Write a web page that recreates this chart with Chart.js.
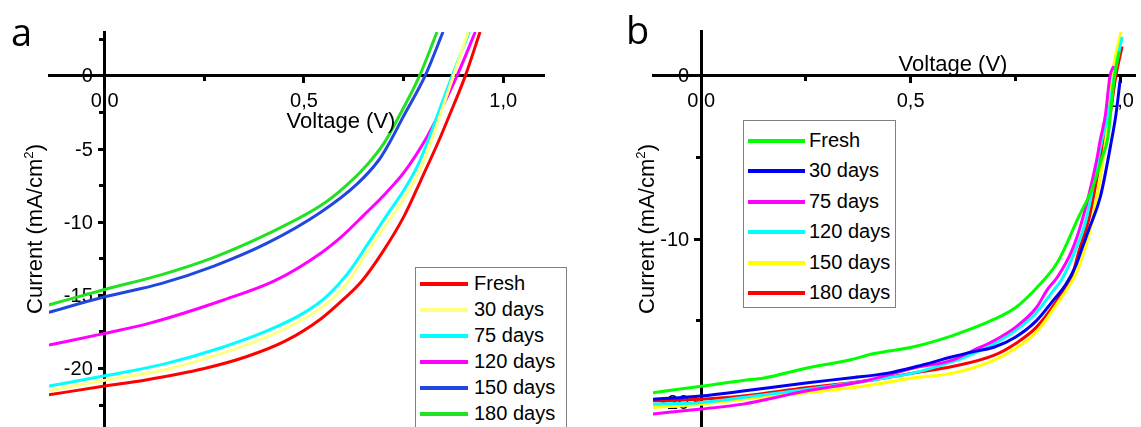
<!DOCTYPE html>
<html><head><meta charset="utf-8">
<script src="https://cdn.jsdelivr.net/npm/chart.js@4"></script>
<style>
html,body{margin:0;padding:0;background:#fff;overflow:hidden;width:1141px;height:427px;}
#wrap{position:relative;width:1141px;height:427px;overflow:hidden;font-family:"Liberation Sans",Arial,sans-serif;color:#000;}
canvas{position:absolute;top:0;}
.lbl{position:absolute;white-space:nowrap;line-height:1;}
.ytitle{transform:translate(-50%,-50%) rotate(-90deg);}
.xtitle{transform:translate(-50%,-50%);}
.panel{position:absolute;font-family:"Open Sans","Noto Sans",sans-serif;font-size:38px;line-height:1;}
.legend{position:absolute;border:1px solid #808080;background:#fff;box-sizing:border-box;}
.legend .item{position:absolute;left:0;height:0;}
.legend .swatch{position:absolute;height:4px;margin-top:-2px;}
.legend .txt{position:absolute;font-size:20px;line-height:20px;margin-top:-11px;white-space:nowrap;}
sup{font-size:60%;vertical-align:0.7em;line-height:0;}
</style>
</head><body>
<div id="wrap">
  <canvas id="ca" width="575" height="470" style="left:0;width:575px;height:470px"></canvas>
  <canvas id="cb" width="566" height="470" style="left:575px;width:566px;height:470px"></canvas>
  <div class="panel" style="left:11px;top:12px">a</div>
  <div class="panel" style="left:626px;top:10px">b</div>
  <div class="lbl xtitle" style="left:341px;top:121px;font-size:22px">Voltage (V)</div>
  <div class="lbl xtitle" style="left:953px;top:64px;font-size:22px">Voltage (V)</div>
  <div class="lbl ytitle" style="left:35px;top:229px;font-size:22px">Current (mA/cm<sup>2</sup>)</div>
  <div class="lbl ytitle" style="left:647px;top:229px;font-size:22px">Current (mA/cm<sup>2</sup>)</div>
  <div id="lega" class="legend" style="left:415px;top:267px;width:152px;height:180px"></div>
  <div id="legb" class="legend" style="left:743px;top:120px;width:153px;height:188px"></div>
</div>
<script>
// ---------- shared ----------
const seriesNames = ['Fresh', '30 days', '75 days', '120 days', '150 days', '180 days'];

// ---------- panel a ----------
const aColors = ['#ff0000', '#ffff80', '#00ffff', '#ff00ff', '#2246e0', '#22e022'];
const aFreshV = [-0.14, 0, 0.10, 0.25, 0.355, 0.455, 0.543, 0.598, 0.646, 0.696, 0.751, 0.794, 0.839, 0.862, 0.905, 0.942];
const aFreshJ = [-21.8, -21.2, -20.8, -20.0, -19.2, -18.1, -16.6, -15.3, -14.0, -12.1, -9.6, -7.1, -4.4, -2.9, 0, 3.0];
const a30V = [-0.14, 0, 0.148, 0.29, 0.41, 0.50, 0.56, 0.61, 0.66, 0.708, 0.755, 0.79, 0.815, 0.838, 0.875, 0.912];
const a30J = [-21.5, -20.8, -20.1, -19.0, -17.8, -16.6, -15.5, -14.1, -12.0, -10.1, -8.2, -6.5, -4.8, -3.0, 0, 3.0];
const a75V = [-0.14, 0, 0.148, 0.29, 0.41, 0.50, 0.56, 0.61, 0.66, 0.706, 0.751, 0.786, 0.809, 0.831, 0.872, 0.915];
const a75J = [-21.2, -20.5, -19.7, -18.6, -17.4, -16.2, -15.0, -13.5, -11.5, -9.6, -7.8, -6.1, -4.6, -3.0, 0, 3.0];
const a120V = [-0.14, 0, 0.113, 0.30, 0.427, 0.543, 0.598, 0.651, 0.706, 0.751, 0.804, 0.837, 0.884, 0.93];
const a120J = [-18.4, -17.6, -16.9, -15.3, -14.0, -12.1, -10.9, -9.5, -8.0, -6.6, -4.4, -2.7, 0, 3.0];
const a150V = [-0.146, 0, 0.141, 0.274, 0.41, 0.543, 0.633, 0.688, 0.714, 0.749, 0.804, 0.849];
const a150J = [-16.2, -15.1, -14.2, -13.0, -11.4, -9.3, -7.4, -5.75, -4.6, -2.8, 0, 3.0];
const a180V = [-0.146, 0, 0.141, 0.274, 0.409, 0.543, 0.606, 0.661, 0.701, 0.734, 0.79, 0.834];
const a180J = [-15.7, -14.6, -13.6, -12.4, -10.8, -8.85, -7.5, -6.0, -4.6, -3.0, 0, 3.0];
const aXMajor = [0, 0.5, 1.0];
const aXMinor = [0.25, 0.75];
const aYMajor = [0, -5, -10, -15, -20];
const aYMinor = [2.5, -2.5, -7.5, -12.5, -17.5, -22.5];

// ---------- panel b ----------
const bColors = ['#00ff00', '#0000f0', '#ff00ff', '#00ffff', '#ffff00', '#ff0000'];
const bFreshV = [-0.115, 0, 0.1, 0.15, 0.25, 0.354, 0.413, 0.505, 0.6, 0.7, 0.75, 0.8, 0.851, 0.9, 0.935, 0.957, 0.97, 0.987, 0.998];
const bFreshJ = [-19.4, -19.0, -18.65, -18.5, -17.9, -17.4, -17.0, -16.6, -15.9, -14.9, -14.2, -13.0, -11.4, -8.7, -6.8, -5.0, -3.9, 0, 1.5];
const b30V = [-0.115, 0, 0.1, 0.25, 0.354, 0.446, 0.514, 0.6, 0.648, 0.7, 0.75, 0.8, 0.842, 0.87, 0.893, 0.91, 0.927, 0.953, 0.98, 0.99, 1.0];
const b30J = [-19.8, -19.6, -19.3, -18.8, -18.5, -18.2, -17.8, -17.2, -16.9, -16.6, -16.0, -15.0, -13.7, -12.8, -11.7, -10.5, -9.3, -7.4, -3.9, -2.4, -0.3];
const b75V = [-0.115, 0, 0.1, 0.25, 0.387, 0.505, 0.6, 0.65, 0.7, 0.75, 0.8, 0.826, 0.851, 0.885, 0.91, 0.943, 0.953, 0.965, 0.976, 0.985];
const b75J = [-20.7, -20.4, -20.1, -19.3, -18.7, -17.9, -17.4, -16.8, -16.2, -15.4, -14.2, -13.1, -12.3, -10.7, -8.8, -5.3, -3.9, -2.4, 0, 0.6];
const b120V = [-0.115, 0, 0.1, 0.25, 0.387, 0.505, 0.6, 0.65, 0.7, 0.75, 0.8, 0.842, 0.86, 0.893, 0.919, 0.957, 0.972, 0.986, 1.005];
const b120J = [-20.1, -20.0, -19.7, -19.2, -18.7, -18.2, -17.5, -17.0, -16.4, -15.6, -14.5, -13.1, -12.5, -10.7, -8.8, -3.9, -2.4, 0, 2.4];
const b150V = [-0.115, 0, 0.1, 0.25, 0.387, 0.505, 0.6, 0.7, 0.75, 0.8, 0.851, 0.88, 0.893, 0.91, 0.936, 0.966, 0.972, 0.981, 1.002];
const b150J = [-20.3, -20.1, -19.8, -19.4, -19.0, -18.5, -18.2, -17.4, -16.7, -15.7, -13.9, -12.8, -12.2, -11.1, -8.6, -3.9, -2.4, 0, 2.7];
const b180V = [-0.115, 0, 0.1, 0.25, 0.387, 0.505, 0.6, 0.7, 0.75, 0.8, 0.851, 0.87, 0.885, 0.9, 0.927, 0.962, 0.976, 0.99, 1.005];
const b180J = [-19.9, -19.8, -19.6, -19.1, -18.7, -18.2, -17.8, -17.1, -16.4, -15.4, -13.7, -12.9, -12.3, -10.9, -8.6, -3.9, -2.4, 0, 1.8];
const bXMajor = [0, 0.5, 1.0];
const bXMinor = [0.25, 0.75];
const bYMajor = [0, -10, -20];
const bYMinor = [-5, -15];

// ---------- builders ----------
function toPoints(vs, js) { return vs.map((v, i) => ({x: v, y: js[i]})); }
function makeDatasets(pairs, colors) {
  return pairs.map((p, i) => ({
    label: seriesNames[i],
    data: toPoints(p[0], p[1]),
    borderColor: colors[i],
    backgroundColor: colors[i],
    borderWidth: 3,
    pointRadius: 0,
    cubicInterpolationMode: 'monotone',
    fill: false
  }));
}
const fontFamily = '"Liberation Sans", Arial, sans-serif';
const tickFont = {family: fontFamily, size: 20};
const fmtX = v => v.toFixed(1).replace('.', ',');
const fmtY = v => String(v);
function setTicks(values) { return s => { s.ticks = values.map(v => ({value: v})); }; }

// y tick labels drawn to the left of the crossing y axis, under axis lines and curves
const yLabelPlugin = {
  id: 'yLabels',
  beforeDraw(chart) {
    const ys = chart.scales.y, xs = chart.scales.x;
    const ctx = chart.ctx;
    const x0 = xs.getPixelForValue(0);
    ctx.save();
    ctx.font = '20px ' + fontFamily;
    ctx.fillStyle = '#000';
    ctx.textAlign = 'right';
    ctx.textBaseline = 'middle';
    ys.ticks.forEach(t => ctx.fillText(fmtY(t.value), x0 - 12, ys.getPixelForValue(t.value) + 1));
    ctx.restore();
  }
};

function makeScales(xr, yr, xMaj, xMin, yMaj, yMin) {
  return {
    x: {type: 'linear', min: xr[0], max: xr[1], position: {y: 0},
        afterBuildTicks: setTicks(xMaj), afterFit: s => { s.height = 0; },
        ticks: {callback: fmtX, font: tickFont, color: '#000', padding: 7, autoSkip: false, maxRotation: 0},
        grid: {drawOnChartArea: false, drawTicks: true, tickLength: 7, color: '#000', lineWidth: 3},
        border: {display: false}},
    y: {type: 'linear', min: yr[0], max: yr[1], position: {x: 0},
        afterBuildTicks: setTicks(yMaj), afterFit: s => { s.width = 0; },
        ticks: {display: false},
        grid: {drawOnChartArea: false, drawTicks: true, tickLength: 7, color: '#000', lineWidth: 3},
        border: {display: false}},
    xm: {type: 'linear', min: xr[0], max: xr[1], position: {y: 0},
        afterBuildTicks: setTicks(xMin), afterFit: s => { s.height = 0; },
        ticks: {display: false},
        grid: {drawOnChartArea: false, drawTicks: true, tickLength: 4, color: '#000', lineWidth: 3},
        border: {display: true, color: '#000', width: 3}},
    ym: {type: 'linear', min: yr[0], max: yr[1], position: {x: 0},
        afterBuildTicks: setTicks(yMin), afterFit: s => { s.width = 0; },
        ticks: {display: false},
        grid: {drawOnChartArea: false, drawTicks: true, tickLength: 4, color: '#000', lineWidth: 3},
        border: {display: true, color: '#000', width: 3}}
  };
}

function makeChart(id, datasets, scales, target) {
  const canvas = document.getElementById(id);
  const padding = {left: target.left, top: target.top, right: canvas.width - target.right, bottom: canvas.height - target.bottom};
  const chart = new Chart(canvas, {
    type: 'line',
    data: {datasets},
    options: {
      responsive: false,
      animation: false,
      layout: {padding},
      plugins: {legend: {display: false}, tooltip: {enabled: false}, title: {display: false}},
      scales
    },
    plugins: [yLabelPlugin]
  });
  // nudge padding so the plot area lands exactly on the wanted box
  for (let k = 0; k < 4; k++) {
    const ca = chart.chartArea;
    const p = chart.options.layout.padding;
    const dl = target.left - ca.left, dt = target.top - ca.top;
    const dr = ca.right - target.right, db = ca.bottom - target.bottom;
    if (Math.abs(dl) + Math.abs(dt) + Math.abs(dr) + Math.abs(db) < 0.5) break;
    p.left += dl; p.top += dt; p.right += dr; p.bottom += db;
    chart.update();
  }
  return chart;
}

const chartA = makeChart('ca',
  makeDatasets([[aFreshV, aFreshJ], [a30V, a30J], [a75V, a75J], [a120V, a120J], [a150V, a150J], [a180V, a180J]], aColors),
  makeScales([-0.14, 1.10], [-24.0, 3.0], aXMajor, aXMinor, aYMajor, aYMinor),
  {left: 49, right: 543, top: 32, bottom: 427});

const chartB = makeChart('cb',
  makeDatasets([[bFreshV, bFreshJ], [b30V, b30J], [b75V, b75J], [b120V, b120J], [b150V, b150J], [b180V, b180J]], bColors),
  makeScales([-0.115, 1.035], [-21.5, 2.75], bXMajor, bXMinor, bYMajor, bYMinor),
  {left: 78, right: 566, top: 31, bottom: 427});

// ---------- HTML legends built from the chart datasets ----------
function buildLegend(elId, chart, firstRow, rowGap, lineLeft, lineW, textLeft) {
  const el = document.getElementById(elId);
  chart.data.datasets.forEach((ds, i) => {
    const item = document.createElement('div');
    item.className = 'item';
    item.style.top = (firstRow + i * rowGap) + 'px';
    const sw = document.createElement('div');
    sw.className = 'swatch';
    sw.style.left = lineLeft + 'px';
    sw.style.width = lineW + 'px';
    sw.style.background = ds.borderColor;
    const tx = document.createElement('div');
    tx.className = 'txt';
    tx.style.left = textLeft + 'px';
    tx.textContent = ds.label;
    item.appendChild(sw);
    item.appendChild(tx);
    el.appendChild(item);
  });
}
buildLegend('lega', chartA, 16, 26, 4, 48, 58);
buildLegend('legb', chartB, 20, 30.4, 4, 57, 65);
</script>
</body></html>
